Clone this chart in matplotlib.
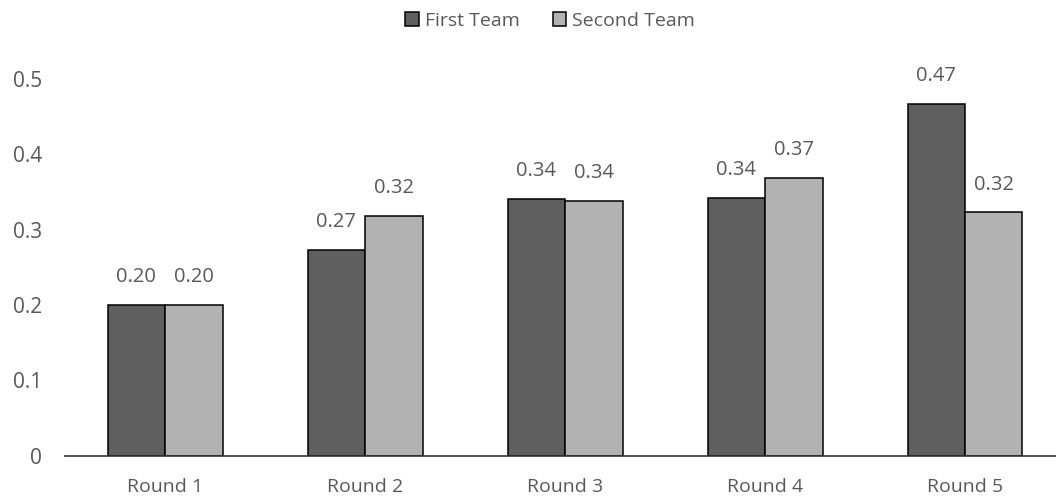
import matplotlib
matplotlib.use("Agg")
import matplotlib.pyplot as plt
import numpy as np

categories = ["Round 1", "Round 2", "Round 3", "Round 4", "Round 5"]
first_team = [0.20, 0.273, 0.341, 0.342, 0.467]
second_team = [0.20, 0.318, 0.338, 0.369, 0.323]
first_labels = ["0.20", "0.27", "0.34", "0.34", "0.47"]
second_labels = ["0.20", "0.32", "0.34", "0.37", "0.32"]
series_names = ["First Team", "Second Team"]
yticks = [0, 0.1, 0.2, 0.3, 0.4, 0.5]
ytick_labels = ["0", "0.1", "0.2", "0.3", "0.4", "0.5"]

plt.rcParams['font.family'] = ['Open Sans', 'DejaVu Sans']
text_color = "#595959"

fig = plt.figure(figsize=(10.56, 5.01), dpi=100)
ax = fig.add_axes([65/1056, 1 - 455.7/501, 1 - 65/1056, (455.7 - 79.2)/501])

x = np.arange(len(categories))
w = 0.2875
b1 = ax.bar(x - w/2, first_team, w, color="#5f5f5f", edgecolor="black", linewidth=1.1, label=series_names[0])
b2 = ax.bar(x + w/2, second_team, w, color="#b2b2b2", edgecolor="black", linewidth=1.1, label=series_names[1])

for xi, v, lab in zip(x - w/2, first_team, first_labels):
    ax.annotate(lab, (xi, v), xytext=(0, 20), textcoords="offset points",
                ha="center", va="center", fontsize=14.5, color=text_color)
for xi, v, lab in zip(x + w/2, second_team, second_labels):
    ax.annotate(lab, (xi, v), xytext=(0, 20), textcoords="offset points",
                ha="center", va="center", fontsize=14.5, color=text_color)

ax.set_xlim(-0.5, -0.5 + (1056 - 65) / 200)
ax.set_ylim(0, 0.5)
ax.set_yticks(yticks)
ax.set_yticklabels(ytick_labels)
ax.set_xticks(x)
ax.set_xticklabels(categories)
ax.tick_params(axis="y", length=0, pad=16.5, labelsize=15, labelcolor=text_color)
ax.tick_params(axis="x", length=0, pad=16, labelsize=14, labelcolor=text_color)

for s in ["top", "right", "left"]:
    ax.spines[s].set_visible(False)
ax.spines["bottom"].set_color("#333333")
ax.spines["bottom"].set_linewidth(1.2)

leg = fig.legend(handles=[b1, b2], labels=series_names, loc="center", bbox_to_anchor=(550/1056, 1 - 21/501),
                 ncol=2, frameon=False, fontsize=14, handlelength=0.7, handleheight=0.7,
                 handletextpad=0.3, columnspacing=1.7, labelcolor=text_color)

fig.savefig("out.png", dpi=100)
